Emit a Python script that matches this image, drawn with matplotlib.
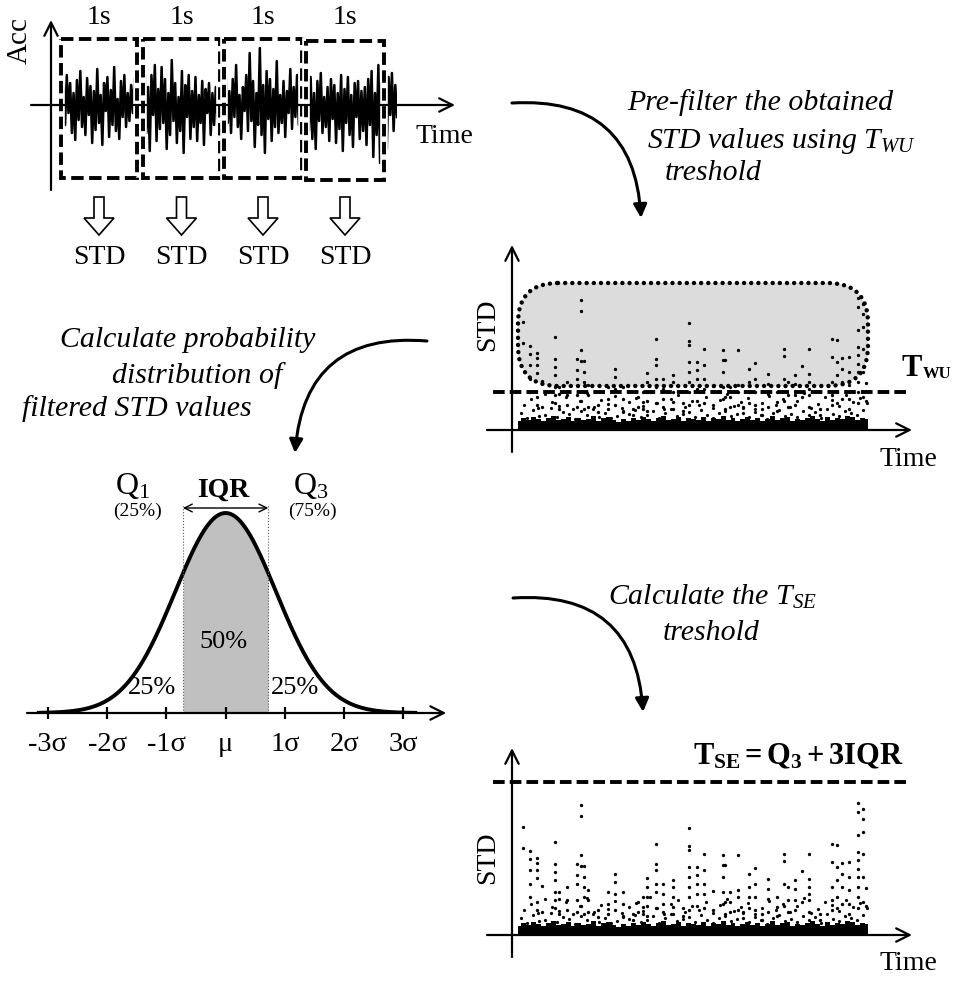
import numpy as np
import matplotlib.pyplot as plt
from matplotlib.patches import FancyArrow, FancyBboxPatch, Rectangle, FancyArrowPatch

plt.rcParams['font.family'] = 'Liberation Serif'
plt.rcParams['mathtext.fontset'] = 'custom'
plt.rcParams['mathtext.rm'] = 'Liberation Serif'
plt.rcParams['mathtext.it'] = 'Liberation Serif:italic'
plt.rcParams['mathtext.bf'] = 'Liberation Serif:bold'

W, H = 957, 982
FS = 19
FS_IT = 21.5

# accelerometer trace, four 1 s windows
acc = [
    5, -12, 18, -20, 30, -8, 22, -28, 12, -35, 25, -15, 34, -22, 8, -30, 27, -10, 19, -38,
    14, -25, 36, -18, 10, -40, 22, -6, 28, -32, 15, -20, 38, -26, 6, -34, 24, -12, 30, -22,
    12, -16, 20, -8, 26, -30, 10, -14, 35, -20, 44, -28, 18, -46, 30, -10, 40, -36, 16, -24,
    38, -18, 26, -44, 12, -30, 45, -16, 22, -38, 8, -26, 34, -48, 20, -12, 30, -34, 14, -22,
    28, -36, 10, -18, 24, -40, 16, -8, 22, -30, 12, -20, 18, -14, 8, -24, 20, -10, 30, -18,
    14, -28, 26, -12, 40, -22, 10, -34, 18, -6, 30, -26, 52, -16, 24, -42, 12, -20, 57, -30,
    20, -48, 34, -14, 26, -36, 16, -22, 44, -28, 10, -18, 24, -32, 14, -8, 36, -24, 18, -12,
    30, -20, 10, -40, 22, -50, 16, -26, 28, -34, 12, -44, 24, -16, 32, -28, 8, -22, 18, -36,
    26, -14, 20, -38, 12, -24, 30, -46, 16, -18, 28, -30, 10, -42, 22, -12, 24, -34, 14, -26,
    18, -40, 26, -20, 34, -52, 12, -30, 40, -58, 22, -16, 36, -44, 28, -10, 32, -26, 20, -12,
]
window_labels = ['1s', '1s', '1s', '1s']

# STD of each window over time: columns that rise above the noise floor
col_t = [5, 12, 19, 24, 37, 41, 49, 59, 63, 66, 70, 80, 90, 97, 105, 115, 120, 125, 129,
         138, 145, 155, 165, 171, 179, 186, 195, 205, 207, 212, 220, 225, 231, 237, 244,
         250, 259, 266, 270, 277, 284, 291, 302, 314, 319, 324, 331, 340, 345, 348]
col_h = [
    [105, 84], [81, 73, 62, 48, 35], [74, 69, 62, 54, 30, 22], [46, 20],
    [90, 68, 60, 52, 40, 32, 24], [40, 33, 18], [45, 32, 22], [68, 57, 48, 32, 20],
    [127, 116, 77, 66, 26], [66, 55, 45, 35, 18], [42, 32, 20], [22, 15],
    [40, 28, 18], [58, 50, 38, 22], [40, 28, 16], [18, 12], [30, 20], [35, 25, 18],
    [54, 45, 35, 26, 16], [88, 68, 62, 48, 40, 24], [48, 38, 28, 20],
    [52, 45, 35, 25, 18], [24, 16], [104, 86, 82, 65, 55, 45, 35, 22],
    [65, 57, 48, 38, 26], [78, 62, 48, 38, 24], [41, 22], [77, 67, 55, 40, 28],
    [67, 30, 18], [40, 30, 20], [77, 42, 35, 22], [20, 14], [58, 45, 35, 24],
    [64, 48, 35, 22], [18, 12], [53, 43, 33, 20], [35, 25, 16], [78, 71, 48, 26],
    [45, 32, 20], [52, 43, 32, 22], [61, 30], [78, 53, 45, 38, 32, 20], [18, 12],
    [88, 70, 45, 32, 22], [87, 65, 52, 35, 24], [69, 58, 45, 28], [70, 55, 42, 28, 18],
    [129, 120, 97, 80, 72, 63, 55, 45, 35, 24], [123, 113, 100, 78, 55, 30], [44, 26],
]
low_t = np.arange(3, 350, 6)
low_h = [14, 9, 17, 11, 12, 19, 10, 15, 13, 8, 16, 12, 18, 10, 14, 9, 11, 15, 13, 17,
         10, 12, 16, 9, 14, 18, 11, 13, 15, 10, 17, 12, 9, 14, 16, 11, 13, 19, 10, 15,
         12, 8, 14, 17, 11, 13, 10, 16, 12, 15, 9, 18, 13, 11, 16, 14, 12, 17]
mid_t = np.arange(6, 350, 7)
mid_h = [22, 28, 19, 33, 25, 21, 30, 18, 26, 34, 20, 27, 23, 31, 19, 25, 29, 21, 35, 24,
         18, 28, 32, 20, 26, 22, 30, 19, 27, 33, 21, 25, 29, 18, 24, 31, 22, 28, 20, 26,
         34, 19, 23, 30, 27, 21, 32, 25, 29, 24]
band_t = np.arange(0, 351, 5)
band_h = [6, 9, 7, 10, 8, 6, 9, 11, 7, 8, 10, 6, 9, 7, 8, 11, 6, 9, 10, 7,
          5, 8, 6, 9, 7, 10, 8, 6, 9, 11, 7, 8, 10, 6, 9, 8, 7, 10, 6, 9,
          8, 11, 7, 9, 6, 8, 10, 7, 9, 6, 8, 11, 7, 9, 10, 6, 8, 7, 9, 11,
          8, 6, 10, 7, 9, 8, 11, 10, 7, 9, 8]
t_wu = 35
t_se = 150

# distribution of the filtered STD values
sigma_ticks = [-3, -2, -1, 0, 1, 2, 3]
sigma_labels = ['-3σ', '-2σ', '-1σ', 'μ', '1σ', '2σ', '3σ']
curve_sd = 0.85
q1, q3 = -0.72, 0.72

fig = plt.figure(figsize=(W / 100, H / 100), dpi=100)


def px_axes(x0, y0, x1, y1):
    a = fig.add_axes([x0 / W, 1 - y1 / H, (x1 - x0) / W, (y1 - y0) / H])
    a.set_facecolor('none')
    return a


# full-figure layer in pixel units for arrows, frames and captions
ax = fig.add_axes([0, 0, 1, 1])
ax.set_xlim(0, W)
ax.set_ylim(H, 0)
ax.axis('off')
ax.set_zorder(1)
ax.patch.set_visible(False)


def axis_arrow(a, start, end):
    a.annotate('', xy=end, xytext=start, annotation_clip=False,
               arrowprops=dict(arrowstyle='->', lw=1.6, mutation_scale=24,
                               shrinkA=0, shrinkB=0, color='black'))


def curved_arrow(start, end, rad):
    ax.add_patch(FancyArrowPatch(start, end, connectionstyle=f'arc3,rad={rad}',
                                 arrowstyle='-|>', mutation_scale=20, lw=2.2,
                                 color='black', shrinkA=0, shrinkB=0))


def bold_sub(x, y, main, sub, size, subsize):
    t = ax.text(x, y, main, ha='left', va='center', fontsize=size, weight='bold')
    ax.annotate(sub, xy=(1, 0), xycoords=t, ha='left', va='bottom',
                fontsize=subsize, weight='bold')


# ---- acceleration windows ----
ax_sig = px_axes(60, 35, 397, 175)
ax_sig.set_zorder(0)
ax_sig.plot(np.arange(len(acc)), acc, color='black', lw=1.8)
ax_sig.set_xlim(0, len(acc) - 1)
ax_sig.set_ylim(-70, 70)
ax_sig.axis('off')

axis_arrow(ax, (51, 190), (51, 20))
axis_arrow(ax, (31, 105), (455, 105))
ax.text(20, 40, 'Acc', rotation=90, ha='center', va='center', fontsize=21)
ax.text(444, 136, 'Time', ha='center', va='center', fontsize=20)

boxes = [(61, 39, 137, 178), (143, 39, 220, 178), (224, 39, 302, 178), (306, 41, 384, 180)]
for (x0, y0, x1, y1), lab in zip(boxes, window_labels):
    ax.add_patch(Rectangle((x0, y0), x1 - x0, y1 - y0, fill=False, ec='white', lw=5.5))
    ax.add_patch(Rectangle((x0, y0), x1 - x0, y1 - y0, fill=False, ec='black',
                           lw=2.8, ls=(0, (3.2, 1.4))))
    xc = (x0 + x1) / 2
    ax.text(xc, 17, lab, ha='center', va='center', fontsize=20)
    ax.add_patch(FancyArrow(xc, 197, 0, 38, width=10, head_width=30, head_length=17,
                            length_includes_head=True, fc='white', ec='black', lw=1.2))
    ax.text(xc, 258, 'STD', ha='center', va='center', fontsize=20)

# ---- step 1 caption ----
curved_arrow((512, 103), (641, 218), -0.5)
ax.text(627, 103, 'Pre-filter the obtained', ha='left', va='center', fontsize=FS_IT, style='italic')
ax.text(647, 141, r'STD values using $T_{WU}$', ha='left', va='center', fontsize=FS_IT, style='italic')
ax.text(665, 173, 'treshold', ha='left', va='center', fontsize=FS_IT, style='italic')


def std_panel(y_top, y_base):
    a = px_axes(518, y_top, 868, y_base)
    a.set_zorder(2)
    a.fill_between(band_t, -3, band_h, color='black', lw=0, step='mid')
    a.plot(low_t, low_h, 'o', color='black', ms=2.3, mec='none')
    a.plot(mid_t, mid_h, 'o', color='black', ms=2.3, mec='none')
    for t, hs in zip(col_t, col_h):
        a.plot([t] * len(hs), hs, 'o', color='black', ms=2.4, mec='none')
    a.set_xlim(0, 350)
    a.set_ylim(-3, 160)
    a.axis('off')
    return a


# ---- pre-filtered STD ----
ax.add_patch(FancyBboxPatch((518, 283), 350, 103,
                            boxstyle='round,pad=0,rounding_size=40',
                            fc='#dcdcdc', ec='black', lw=3.2,
                            ls=(0, (0.01, 1.6)), capstyle='round'))
ax_s1 = std_panel(267, 430)
ax_s1.plot([-25, 392], [t_wu, t_wu], color='black', lw=2.8, ls=(0, (3, 1.3)), clip_on=False)
axis_arrow(ax, (512, 452), (512, 245))
axis_arrow(ax, (487, 430), (912, 430))
ax.text(488, 325, 'STD', rotation=90, ha='center', va='center', fontsize=20)
ax.text(908, 460, 'Time', ha='center', va='center', fontsize=20)
bold_sub(902, 368, 'T', 'WU', 22, 12)

# ---- step 2 caption ----
curved_arrow((427, 341), (295, 453), 0.5)
ax.text(60, 340, 'Calculate probability', ha='left', va='center', fontsize=FS_IT, style='italic')
ax.text(112, 376, 'distribution of', ha='left', va='center', fontsize=FS_IT, style='italic')
ax.text(22, 409, 'filtered STD values', ha='left', va='center', fontsize=FS_IT, style='italic')

# ---- probability distribution ----
ax_n = px_axes(27, 493, 445, 713)
xs = np.linspace(-3.15, 3.2, 400)
ax_n.fill_between(xs, 0, np.exp(-0.5 * (xs / curve_sd) ** 2),
                  where=(xs >= q1) & (xs <= q3), color='#c0c0c0', lw=0)
ax_n.plot(xs, np.exp(-0.5 * (xs / curve_sd) ** 2), color='black', lw=2.8)
ax_n.vlines([q1, q3], 0, 1.04, color='0.35', lw=0.8, ls=':')
ax_n.annotate('', xy=(q3, 1.025), xytext=(q1, 1.025),
              arrowprops=dict(arrowstyle='<->', lw=1.0, mutation_scale=14,
                              shrinkA=0, shrinkB=0))
axis_arrow(ax_n, (-3.35, 0), (3.72, 0))
ax_n.set_xlim(-3.35, 3.7)
ax_n.set_ylim(0, 1.1)
ax_n.set_xticks(sigma_ticks)
ax_n.set_xticklabels(sigma_labels)
ax_n.set_yticks([])
ax_n.tick_params(axis='x', direction='inout', length=9, width=1.6, labelsize=20.5, pad=9)
for s in ax_n.spines.values():
    s.set_visible(False)

ax.text(133, 486, r'Q$_1$', ha='center', va='center', fontsize=23)
ax.text(137, 511, '(25%)', ha='center', va='center', fontsize=14)
ax.text(311, 486, r'Q$_3$', ha='center', va='center', fontsize=23)
ax.text(312, 511, '(75%)', ha='center', va='center', fontsize=14)
ax.text(223, 490, 'IQR', ha='center', va='center', fontsize=20, weight='bold')
ax.text(223, 642, '50%', ha='center', va='center', fontsize=FS)
ax.text(152, 688, '25%', ha='center', va='center', fontsize=FS)
ax.text(295, 688, '25%', ha='center', va='center', fontsize=FS)

# ---- step 3 caption ----
curved_arrow((513, 598), (643, 712), -0.5)
ax.text(608, 597, r'Calculate the $T_{SE}$', ha='left', va='center', fontsize=FS_IT, style='italic')
ax.text(663, 633, 'treshold', ha='left', va='center', fontsize=FS_IT, style='italic')

# ---- final STD with T_SE ----
ax_s2 = std_panel(772, 935)
ax_s2.plot([-25, 392], [t_se, t_se], color='black', lw=2.8, ls=(0, (3, 1.3)), clip_on=False)
axis_arrow(ax, (512, 957), (512, 748))
axis_arrow(ax, (487, 935), (912, 935))
ax.text(488, 858, 'STD', rotation=90, ha='center', va='center', fontsize=20)
ax.text(908, 963, 'Time', ha='center', va='center', fontsize=20)
ax.text(693, 757, r'$\mathbf{T_{SE} = Q_3 + 3IQR}$', ha='left', va='center', fontsize=22)

fig.savefig('out.png', dpi=100)
